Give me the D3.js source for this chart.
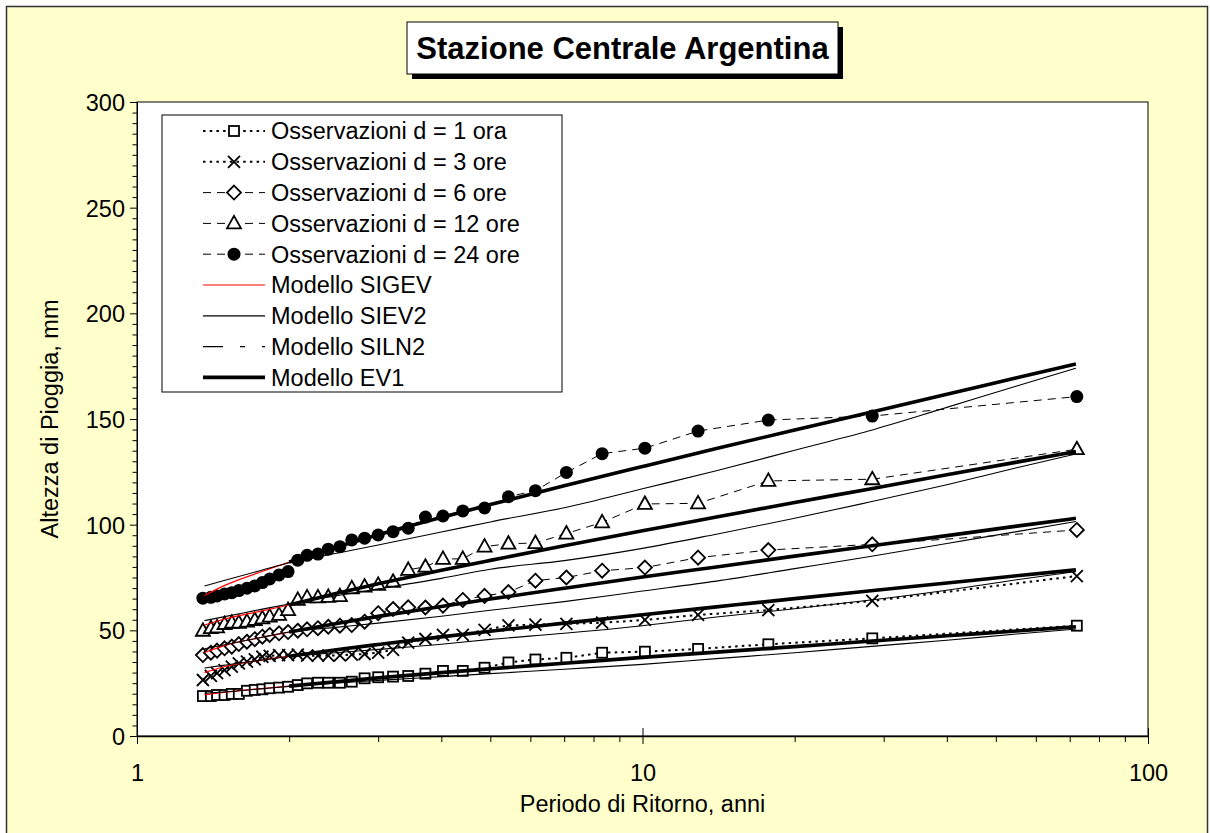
<!DOCTYPE html>
<html>
<head>
<meta charset="utf-8">
<script src="https://cdn.jsdelivr.net/npm/d3@7"></script>
<style>
  html, body { margin: 0; padding: 0; background: #ffffff; }
  svg { display: block; }
  text { font-family: Arial, "Liberation Sans", sans-serif; fill: #000; }
</style>
</head>
<body>
<svg id="chart" width="1210" height="833"></svg>
<script>
// Return periods (years) of the ranked annual maxima
const periodiOss = [1.35, 1.40, 1.44, 1.49, 1.54, 1.59, 1.65, 1.71, 1.77, 1.83, 1.91, 1.99,
  2.08, 2.17, 2.28, 2.39, 2.52, 2.66, 2.82, 3.00, 3.21, 3.44, 3.72, 4.03, 4.41, 4.87,
  5.43, 6.14, 7.07, 8.32, 10.11, 12.88, 17.74, 28.48, 72.31];

// Observed rainfall depths (mm) for each duration
const oss1 = [18.9, 18.9, 19.4, 19.4, 19.9, 19.9, 21.4, 21.8, 22.1, 22.6, 22.9, 23.3, 24.1, 24.9,
  25.2, 25.2, 25.2, 25.7, 27.3, 27.8, 28.1, 28.4, 29.5, 30.8, 30.8, 32.3, 34.8, 36.2, 37.0,
  39.4, 39.9, 41.2, 43.4, 46.2, 52.2];
const oss3 = [26.5, 28.4, 29.7, 31.2, 32.8, 34.4, 35.2, 36.3, 37.5, 37.9, 38.3, 38.3, 38.5, 38.0,
  38.0, 38.0, 38.2, 38.5, 38.8, 39.5, 40.8, 44.2, 45.9, 47.8, 47.8, 50.2, 52.3, 52.7, 53.1,
  53.6, 54.9, 57.3, 59.6, 63.9, 75.7];
const oss6 = [38.3, 39.4, 40.4, 41.5, 42.3, 43.5, 44.6, 45.8, 47.0, 47.8, 48.6, 49.2, 49.8, 50.5,
  51.0, 51.7, 52.2, 52.5, 54.1, 58.1, 60.1, 60.9, 60.8, 61.7, 64.4, 66.3, 68.1, 73.5, 75.0,
  78.2, 79.7, 84.4, 88.0, 90.7, 97.5];
const oss12 = [49.8, 51.0, 51.4, 53.0, 53.6, 53.6, 54.1, 54.9, 55.7, 56.5, 57.3, 59.6, 64.4, 65.6,
  65.6, 65.8, 66.2, 69.9, 70.7, 71.5, 73.0, 78.6, 80.1, 83.8, 83.8, 89.6, 91.0, 91.3, 95.8,
  101.1, 109.8, 110.1, 120.7, 121.5, 135.7];
const oss24 = [65.2, 65.6, 66.3, 67.2, 67.8, 68.8, 69.9, 71.0, 72.6, 74.3, 76.2, 77.8, 83.2, 85.5,
  86.1, 88.4, 89.6, 92.8, 93.6, 95.1, 96.7, 98.3, 103.6, 104.1, 106.5, 107.9, 113.2, 116.1,
  124.7, 133.6, 136.2, 144.3, 149.5, 151.4, 160.6];

// Return periods at which the fitted growth curves are tabulated
const periodiMod = [1.36, 1.5, 1.75, 2, 2.5, 3, 4, 5, 7, 10, 14, 20, 28, 40, 55, 72];

// SIGEV model
const sigev1 = [19.5, 20.8, 22.3, 23.6, 25.8, 27.5, 30.0, 31.8, 34.4, 37.2, 39.7, 42.3, 44.8, 47.4, 49.7, 51.7];
const sigev3 = [30.0, 33.0, 35.8, 37.7, 40.9, 43.3, 46.9, 49.6, 53.4, 57.4, 61.1, 65.0, 68.6, 72.4, 75.8, 78.6];
const sigev6 = [39.5, 43.0, 46.5, 49.2, 53.4, 56.6, 61.3, 64.8, 69.9, 75.2, 80.0, 85.1, 89.8, 94.8, 99.3, 103.0];
const sigev12 = [52.5, 55.5, 59.0, 62.0, 67.7, 72.0, 78.4, 83.1, 90.0, 97.1, 103.6, 110.5, 116.8, 123.6, 129.6, 134.6];
const sigev24 = [66.5, 71.5, 77.5, 82.3, 89.6, 95.2, 103.4, 109.5, 118.4, 127.5, 136.0, 144.8, 153.0, 161.7, 169.5, 176.0];

// SIEV2 model
const siev21 = [20.2, 20.9, 22.3, 23.5, 25.1, 26.3, 28.1, 29.5, 31.6, 33.9, 36.6, 39.4, 42.3, 45.3, 48.3, 50.6];
const siev23 = [32.2, 33.6, 35.8, 37.6, 39.5, 41.0, 43.4, 45.7, 48.6, 52.2, 56.3, 60.2, 64.2, 69.0, 73.9, 77.8];
const siev26 = [41.3, 43.3, 46.5, 49.2, 51.5, 53.4, 56.7, 59.5, 63.6, 68.6, 73.3, 79.2, 84.8, 91.1, 96.7, 101.5];
const siev212 = [54.6, 56.6, 59.8, 62.5, 66.5, 69.6, 74.6, 78.9, 83.0, 88.8, 95.5, 103.0, 110.6, 118.9, 126.9, 133.5];
const siev224 = [71.0, 73.8, 78.2, 82.0, 86.6, 90.4, 96.5, 101.3, 108.0, 117.0, 125.5, 135.2, 144.3, 155.5, 165.6, 174.0];

// SILN2 model (no curve drawn in this chart)
const siln2 = [];

// EV1 (Gumbel) model, tabulated from T = 2 years
const periodiEV1 = [2, 2.5, 3, 4, 5, 7, 10, 14, 20, 28, 40, 55, 72];
const ev11 = [23.6, 25.8, 27.5, 30.0, 31.8, 34.4, 37.2, 39.7, 42.3, 44.8, 47.4, 49.7, 51.7];
const ev13 = [37.7, 40.9, 43.3, 46.9, 49.6, 53.4, 57.4, 61.1, 65.0, 68.6, 72.4, 75.8, 78.6];
const ev16 = [49.2, 53.4, 56.6, 61.3, 64.8, 69.9, 75.2, 80.0, 85.1, 89.8, 94.8, 99.3, 103.0];
const ev112 = [62.0, 67.7, 72.0, 78.4, 83.1, 90.0, 97.1, 103.6, 110.5, 116.8, 123.6, 129.6, 134.6];
const ev124 = [82.3, 89.6, 95.2, 103.4, 109.5, 118.4, 127.5, 136.0, 144.8, 153.0, 161.7, 169.5, 176.0];

// Axis ticks and labels
const xTicksMajor = [1, 10, 100];
const xTicksMinor = [2, 3, 4, 5, 6, 7, 8, 9, 20, 30, 40, 50, 60, 70, 80, 90];
const yTicksMajor = [0, 50, 100, 150, 200, 250, 300];

const titolo = "Stazione Centrale Argentina";
const titoloX = "Periodo di Ritorno, anni";
const titoloY = "Altezza di Pioggia, mm";

// ---------------------------------------------------------------------------
const svg = d3.select("#chart");
const W = 1210, H = 833;
const plot = { left: 137, right: 1148, top: 102, bottom: 736 };

const x = d3.scaleLog().domain([1, 100]).range([plot.left, plot.right]);
const y = d3.scaleLinear().domain([0, 300]).range([plot.bottom, plot.top]);

// chart area
svg.append("rect").attr("x", 0).attr("y", 0).attr("width", W).attr("height", H).attr("fill", "#ffffff");
svg.append("rect").attr("x", 6.5).attr("y", 6.5).attr("width", W - 9).attr("height", H - 4)
  .attr("fill", "#FFFFCC").attr("stroke", "#333").attr("stroke-width", 1.5);

// plot area
svg.append("rect").attr("x", plot.left).attr("y", plot.top)
  .attr("width", plot.right - plot.left).attr("height", plot.bottom - plot.top)
  .attr("fill", "#ffffff").attr("stroke", "#000").attr("stroke-width", 1);

// y axis
const yAxis = d3.axisLeft(y).tickValues(yTicksMajor).tickSize(7).tickPadding(5).tickFormat(d3.format("d"));
const gy = svg.append("g").attr("transform", `translate(${plot.left},0)`).call(yAxis);
gy.select(".domain").attr("stroke", "#000");
gy.selectAll("text").style("font-size", "23.5px").attr("dy", "0.36em");
const yMinor = d3.range(0, 301, 5).filter(v => v % 50 !== 0);
const yMinorAxis = d3.axisLeft(y).tickValues(yMinor).tickSize(4.5).tickFormat("");
const gym = svg.append("g").attr("transform", `translate(${plot.left},0)`).call(yMinorAxis);
gym.select(".domain").remove();

// x axis: major ticks cross the axis, minor ticks outside
const xAxis = d3.axisBottom(x).tickValues(xTicksMajor).tickSize(0).tickPadding(28)
  .tickFormat(d3.format("d"));
const gx = svg.append("g").attr("transform", `translate(0,${plot.bottom})`).call(xAxis);
gx.select(".domain").attr("stroke", "#000").attr("stroke-width", 1.5);
gx.selectAll("text").style("font-size", "23.5px");
gx.selectAll(".tick").append("line").attr("y1", -8).attr("y2", 8).attr("stroke", "#000");
const xMinorAxis = d3.axisBottom(x).tickValues(xTicksMinor).tickSize(6).tickFormat("");
const gxm = svg.append("g").attr("transform", `translate(0,${plot.bottom})`).call(xMinorAxis);
gxm.select(".domain").remove();

// axis titles
svg.append("text").attr("x", (plot.left + plot.right) / 2).attr("y", 812)
  .attr("text-anchor", "middle").style("font-size", "23.5px").text(titoloX);
svg.append("text").attr("transform", `translate(50,${(plot.top + plot.bottom) / 2}) rotate(-90)`)
  .attr("text-anchor", "middle").attr("dy", "0.36em").style("font-size", "23.5px").text(titoloY);

// ---------------------------------------------------------------------------
// marker shapes
function drawMarker(g, kind, cx, cy) {
  if (kind === "square") {
    g.append("rect").attr("x", cx - 5).attr("y", cy - 5).attr("width", 10).attr("height", 10)
      .attr("fill", "#fff").attr("stroke", "#000").attr("stroke-width", 1.8);
  } else if (kind === "cross") {
    g.append("path").attr("d", `M${cx - 6},${cy - 6}L${cx + 6},${cy + 6}M${cx - 6},${cy + 6}L${cx + 6},${cy - 6}`)
      .attr("stroke", "#000").attr("stroke-width", 1.8).attr("fill", "none");
  } else if (kind === "diamond") {
    g.append("path").attr("d", `M${cx},${cy - 7}L${cx + 7},${cy}L${cx},${cy + 7}L${cx - 7},${cy}Z`)
      .attr("fill", "#fff").attr("stroke", "#000").attr("stroke-width", 1.8);
  } else if (kind === "triangle") {
    g.append("path").attr("d", `M${cx},${cy - 7.5}L${cx + 7},${cy + 5}L${cx - 7},${cy + 5}Z`)
      .attr("fill", "#fff").attr("stroke", "#000").attr("stroke-width", 1.8);
  } else if (kind === "circle") {
    g.append("circle").attr("cx", cx).attr("cy", cy).attr("r", 6.5).attr("fill", "#000");
  }
}

const osservazioni = [
  { nome: "Osservazioni d = 1 ora", valori: oss1, marker: "square", dash: "2.5,4.2", w: 2 },
  { nome: "Osservazioni d = 3 ore", valori: oss3, marker: "cross", dash: "2.5,4.2", w: 2 },
  { nome: "Osservazioni d = 6 ore", valori: oss6, marker: "diamond", dash: "8,6", w: 1 },
  { nome: "Osservazioni d = 12 ore", valori: oss12, marker: "triangle", dash: "8,6", w: 1 },
  { nome: "Osservazioni d = 24 ore", valori: oss24, marker: "circle", dash: "8,6", w: 1 }
];

const modelli = [
  { nome: "Modello SIGEV", T: periodiMod, serie: [sigev1, sigev3, sigev6, sigev12, sigev24], color: "#ff0000", w: 1.2, dash: null },
  { nome: "Modello SIEV2", T: periodiMod, serie: [siev21, siev23, siev26, siev212, siev224], color: "#000", w: 1.1, dash: null },
  { nome: "Modello SILN2", T: periodiMod, serie: siln2.length ? [siln2] : [], color: "#000", w: 1, dash: "20,17,5,17" },
  { nome: "Modello EV1", T: periodiEV1, serie: [ev11, ev13, ev16, ev112, ev124], color: "#000", w: 3.6, dash: null }
];

svg.append("clipPath").attr("id", "plotclip").append("rect")
  .attr("x", plot.left).attr("y", plot.top).attr("width", plot.right - plot.left).attr("height", plot.bottom - plot.top);
const gData = svg.append("g").attr("clip-path", "url(#plotclip)");

// observed series: line, then markers
osservazioni.forEach(s => {
  const pts = periodiOss.map((t, i) => [t, s.valori[i]]);
  gData.append("path").datum(pts)
    .attr("d", d3.line().x(d => x(d[0])).y(d => y(d[1])))
    .attr("fill", "none").attr("stroke", "#000").attr("stroke-width", s.w)
    .attr("stroke-dasharray", s.dash);
  const gm = gData.append("g");
  pts.forEach(p => drawMarker(gm, s.marker, x(p[0]), y(p[1])));
});

// fitted models drawn on top
modelli.forEach(m => {
  m.serie.forEach(vals => {
    const pts = m.T.map((t, i) => [t, vals[i]]);
    gData.append("path").datum(pts)
      .attr("d", d3.line().x(d => x(d[0])).y(d => y(d[1])).curve(d3.curveMonotoneX))
      .attr("fill", "none").attr("stroke", m.color).attr("stroke-width", m.w)
      .attr("stroke-dasharray", m.dash);
  });
});

// ---------------------------------------------------------------------------
// legend
const leg = svg.append("g");
leg.append("rect").attr("x", 162).attr("y", 115).attr("width", 400).attr("height", 277)
  .attr("fill", "#fff").attr("stroke", "#000").attr("stroke-width", 1);
const voci = osservazioni.map(s => ({ tipo: "oss", s })).concat(modelli.map(m => ({ tipo: "mod", s: m })));
voci.forEach((v, i) => {
  const cy = 131 + 30.8 * i;
  const s = v.s;
  if (v.tipo === "oss") {
    leg.append("line").attr("x1", 203).attr("x2", 265).attr("y1", cy).attr("y2", cy)
      .attr("stroke", "#000").attr("stroke-width", s.w).attr("stroke-dasharray", s.dash);
    drawMarker(leg, s.marker, 234, cy);
  } else {
    leg.append("line").attr("x1", 203).attr("x2", 265).attr("y1", cy).attr("y2", cy)
      .attr("stroke", s.color).attr("stroke-width", s.w === 3.6 ? 3.6 : 1.2).attr("stroke-dasharray", s.dash);
  }
  leg.append("text").attr("x", 271).attr("y", cy).attr("dy", "0.36em")
    .style("font-size", "23.5px").text(s.nome);
});

// title box with shadow
const tb = { x: 407, y: 22, w: 431, h: 52 };
svg.append("rect").attr("x", tb.x + 5).attr("y", tb.y + 5).attr("width", tb.w).attr("height", tb.h).attr("fill", "#000");
svg.append("rect").attr("x", tb.x).attr("y", tb.y).attr("width", tb.w).attr("height", tb.h)
  .attr("fill", "#fff").attr("stroke", "#000").attr("stroke-width", 1);
svg.append("text").attr("x", tb.x + tb.w / 2).attr("y", tb.y + tb.h / 2).attr("dy", "0.36em")
  .attr("text-anchor", "middle").style("font-size", "31px").style("font-weight", "bold").text(titolo);
</script>
</body>
</html>
